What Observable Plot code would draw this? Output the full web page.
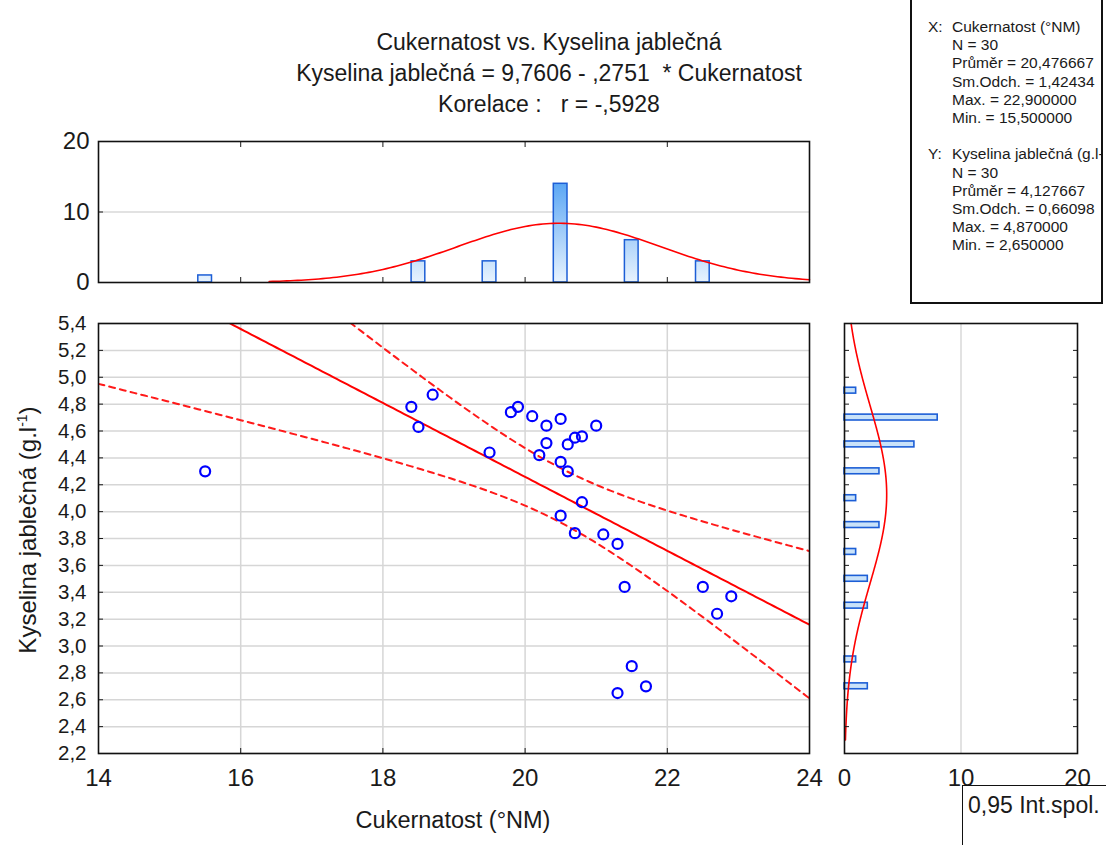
<!DOCTYPE html>
<html>
<head>
<meta charset="utf-8">
<script src="https://cdn.jsdelivr.net/npm/d3@7"></script>
<script src="https://cdn.jsdelivr.net/npm/@observablehq/plot@0.6"></script>
<style>
  html, body { margin: 0; padding: 0; background: #fff; }
  #root { position: relative; width: 1106px; height: 845px; overflow: hidden; background: #fff;
          font-family: "Liberation Sans", Arial, sans-serif; color: #1a1a1a; }
  .abs { position: absolute; }
  .title { left: 0; width: 1098px; text-align: center; font-size: 23px; line-height: 31px; white-space: pre; }
  #stats { left: 910px; top: -4px; width: 189px; height: 304px; border: 2px solid #111; overflow: hidden; }
  #stats div { position: absolute; font-size: 15.5px; line-height: 18px; white-space: pre; }
  #legendBox { left: 962px; top: 785px; width: 200px; height: 100px; border-top: 1.5px solid #111; border-left: 1.5px solid #111; }
  svg { position: absolute; }
</style>
</head>
<body>
<div id="root"></div>
<script>
// ---------- data ----------
const sugar = [15.5, 18.4, 18.5, 18.7, 19.5, 19.8, 19.9, 20.1, 20.3, 20.5, 21.0, 20.3, 20.7, 20.8, 20.6,
               20.2, 20.5, 20.6, 20.8, 20.5, 20.7, 21.1, 21.3, 21.4, 22.5, 22.9, 22.7, 21.5, 21.7, 21.3];
const acid  = [4.30, 4.78, 4.63, 4.87, 4.44, 4.74, 4.78, 4.71, 4.64, 4.69, 4.64, 4.51, 4.55, 4.56, 4.50,
               4.42, 4.37, 4.30, 4.07, 3.97, 3.84, 3.83, 3.76, 3.44, 3.44, 3.37, 3.24, 2.85, 2.70, 2.65];

// histogram of sugar (bin width 1)
const sugarBinCenters = [15.5, 18.5, 19.5, 20.5, 21.5, 22.5];
const sugarBinCounts  = [1, 3, 3, 14, 6, 3];
// histogram of acid (bin width 0.2)
const acidBinCenters = [4.9, 4.7, 4.5, 4.3, 4.1, 3.9, 3.7, 3.5, 3.3, 2.9, 2.7];
const acidBinCounts  = [1, 8, 6, 3, 1, 3, 1, 2, 2, 1, 2];

// descriptive statistics (stats box)
const statsLabels = ["N", "Průměr", "Sm.Odch.", "Max.", "Min."];
const xStatsText  = ["30", "20,476667", "1,42434", "22,900000", "15,500000"];
const yStatsText  = ["30", "4,127667", "0,66098", "4,870000", "2,650000"];
const xStatsNum   = [30, 20.476667, 1.42434, 22.9, 15.5];
const yStatsNum   = [30, 4.127667, 0.66098, 4.87, 2.65];

// regression
const regIntercept = 9.7606;
const regSlope = -0.2751;
const tCrit = 2.0484; // t(0.975, 28)

// axes
const xTicks = [14, 16, 18, 20, 22, 24];
const yTicks = [2.2, 2.4, 2.6, 2.8, 3.0, 3.2, 3.4, 3.6, 3.8, 4.0, 4.2, 4.4, 4.6, 4.8, 5.0, 5.2, 5.4];
const topHistTicks = [0, 10, 20];
const rightHistTicks = [0, 10, 20];

// text
const titleLines = ["Cukernatost vs. Kyselina jablečná",
                    "Kyselina jablečná = 9,7606 - ,2751  * Cukernatost",
                    "Korelace :   r = -,5928"];
const xLabel = "Cukernatost (°NM)";
const yLabelMain = "Kyselina jablečná (g.l";
const xVarName = "Cukernatost (°NM)";
const yVarName = "Kyselina jablečná (g.l-1)";
const legendText = "0,95 Int.spol.";

// ---------- derived ----------
const points = sugar.map((s, i) => ({s, a: acid[i]}));
const topBins = sugarBinCenters.map((c, i) => ({c, n: sugarBinCounts[i]}));
const rightBins = acidBinCenters.map((c, i) => ({c, n: acidBinCounts[i]}));

const n = sugar.length;
const xbar = d3.mean(sugar);
const Sxx = d3.sum(sugar, v => (v - xbar) ** 2);
const sRes = Math.sqrt(d3.sum(points, p => (p.a - (regIntercept + regSlope * p.s)) ** 2) / (n - 2));
const xs = d3.range(14, 24.0001, 0.05);
const regLine = xs.map(x => ({x, y: regIntercept + regSlope * x}));
const band = xs.map(x => {
  const y = regIntercept + regSlope * x;
  const h = tCrit * sRes * Math.sqrt(1 / n + (x - xbar) ** 2 / Sxx);
  return {x, lo: y - h, hi: y + h};
});

const normPdf = (v, m, s) => Math.exp(-0.5 * ((v - m) / s) ** 2) / (s * Math.sqrt(2 * Math.PI));
const topCurve = d3.range(16.4, 24.0001, 0.05).map(x => ({x, y: xStatsNum[0] * 1 * normPdf(x, xStatsNum[1], xStatsNum[2])}));
const rightCurve = d3.range(2.3, 5.4001, 0.01).map(v => ({v, n: yStatsNum[0] * 0.2 * normPdf(v, yStatsNum[1], yStatsNum[2])}));

const fmtComma = d => d.toFixed(1).replace(".", ",");
const font = "Liberation Sans, Arial, sans-serif";
const baseStyle = {fontFamily: font, background: "transparent", overflow: "visible", color: "#1a1a1a"};
const root = document.getElementById("root");

// ---------- titles ----------
titleLines.forEach((t, i) => {
  const d = document.createElement("div");
  d.className = "abs title";
  d.style.top = (26.5 + i * 31) + "px";
  d.textContent = t;
  root.appendChild(d);
});

// ---------- top histogram ----------
const topPlot = Plot.plot({
  width: 830, height: 180,
  marginLeft: 98, marginRight: 21, marginTop: 21, marginBottom: 18,
  style: baseStyle,
  x: {domain: [14, 24], axis: null},
  y: {domain: [0, 20], axis: null},
  marks: [
    Plot.ruleY([10], {stroke: "#d9d9d9", strokeWidth: 1.5}),
    Plot.rect(topBins, {x1: d => d.c - 0.5, x2: d => d.c + 0.5, y1: () => 0, y2: "n",
      insetLeft: 28.7, insetRight: 28.7, fill: "url(#gradTop)", stroke: "#1c5ed6", strokeWidth: 1.5}),
    Plot.line(topCurve, {x: "x", y: "y", stroke: "#ff0000", strokeWidth: 1.6}),
    Plot.axisY({ticks: topHistTicks, tickSize: 0, tickPadding: 9, fontSize: 24, label: null}),
    Plot.axisY({ticks: [10], tickSize: -5, tickFormat: () => "", label: null}),
    Plot.axisX({anchor: "bottom", ticks: [16, 18, 20, 22], tickSize: -5, tickFormat: () => "", label: null}),
    Plot.axisX({anchor: "top", ticks: [16, 18, 20, 22], tickSize: -5, tickFormat: () => "", label: null}),
    Plot.frame({stroke: "#111", strokeWidth: 1.6})
  ]
});
topPlot.style.left = "0px"; topPlot.style.top = "120px";
{
  const defs = d3.select(topPlot).insert("defs", ":first-child");
  const g = defs.append("linearGradient").attr("id", "gradTop")
    .attr("gradientUnits", "userSpaceOnUse").attr("x1", 0).attr("x2", 0).attr("y1", 21).attr("y2", 162);
  g.append("stop").attr("offset", "0%").attr("stop-color", "#1f86f0");
  g.append("stop").attr("offset", "100%").attr("stop-color", "#e8f3fe");
}
root.appendChild(topPlot);

// ---------- scatter ----------
const scatter = Plot.plot({
  width: 830, height: 500,
  marginLeft: 98, marginRight: 21, marginTop: 23, marginBottom: 47,
  style: baseStyle,
  x: {domain: [14, 24], axis: null},
  y: {domain: [2.2, 5.4], axis: null},
  marks: [
    Plot.gridY(yTicks, {stroke: "#d6d6d6", strokeOpacity: 1, strokeWidth: 1.5}),
    Plot.gridX([16, 18, 20, 22], {stroke: "#d6d6d6", strokeOpacity: 1, strokeWidth: 1.5}),
    Plot.line(band, {x: "x", y: "hi", stroke: "#ff1a1a", strokeWidth: 2, strokeDasharray: "6,5", clip: true}),
    Plot.line(band, {x: "x", y: "lo", stroke: "#ff1a1a", strokeWidth: 2, strokeDasharray: "6,5", clip: true}),
    Plot.line(regLine, {x: "x", y: "y", stroke: "#ff0000", strokeWidth: 2, clip: true}),
    Plot.dot(points, {x: "s", y: "a", r: 5, stroke: "#0000ff", strokeWidth: 2.2, fill: "none"}),
    Plot.axisY({ticks: yTicks, tickSize: -5, tickPadding: 17, tickFormat: fmtComma, fontSize: 20.5, label: null}),
    Plot.axisX({ticks: xTicks, tickSize: -5, tickPadding: 20, fontSize: 24, label: null}),
    Plot.frame({stroke: "#111", strokeWidth: 1.6})
  ]
});
scatter.style.left = "0px"; scatter.style.top = "300px";
root.appendChild(scatter);

// ---------- right histogram ----------
const rightPlot = Plot.plot({
  width: 276, height: 500,
  marginLeft: 14, marginRight: 29, marginTop: 23, marginBottom: 47,
  style: baseStyle,
  x: {domain: [0, 20], axis: null},
  y: {domain: [2.2, 5.4], axis: null},
  marks: [
    Plot.ruleX([10], {stroke: "#d9d9d9", strokeWidth: 1.5}),
    Plot.rect(rightBins, {y1: d => d.c - 0.1, y2: d => d.c + 0.1, x1: () => 0, x2: "n",
      insetTop: 10.5, insetBottom: 10.5, fill: "#c9e2f9", stroke: "#1c5ed6", strokeWidth: 1.6}),
    Plot.line(rightCurve, {x: "n", y: "v", stroke: "#ff0000", strokeWidth: 1.6}),
    Plot.axisY({anchor: "left", ticks: yTicks, tickSize: -5, tickFormat: () => "", label: null}),
    Plot.axisY({anchor: "right", ticks: yTicks, tickSize: -5, tickFormat: () => "", label: null}),
    Plot.axisX({ticks: rightHistTicks, tickSize: 0, tickPadding: 15, fontSize: 24, label: null}),
    Plot.frame({stroke: "#111", strokeWidth: 1.6})
  ]
});
rightPlot.style.left = "830px"; rightPlot.style.top = "300px";
root.appendChild(rightPlot);

// ---------- axis titles ----------
{
  const xl = document.createElement("div");
  xl.className = "abs";
  xl.style.cssText = "left:453px;top:820px;transform:translate(-50%,-50%);font-size:23.5px;white-space:nowrap;";
  xl.textContent = xLabel;
  root.appendChild(xl);

  const yl = document.createElement("div");
  yl.className = "abs";
  yl.style.cssText = "left:28px;top:530px;transform:translate(-50%,-50%) rotate(-90deg);font-size:24px;white-space:nowrap;";
  yl.appendChild(document.createTextNode(yLabelMain));
  const sup = document.createElement("sup");
  sup.style.fontSize = "14px";
  sup.textContent = "-1";
  yl.appendChild(sup);
  yl.appendChild(document.createTextNode(")"));
  root.appendChild(yl);
}

// ---------- stats box ----------
{
  const box = document.createElement("div");
  box.id = "stats"; box.className = "abs";
  root.appendChild(box);
  const add = (txt, x, yc) => {
    const d = document.createElement("div");
    d.style.left = (x - 912) + "px";
    d.style.top = (yc + 4 - 9) + "px";
    d.textContent = txt;
    box.appendChild(d);
  };
  const lh = 18.2;
  add("X:", 928, 25);
  add(xVarName, 952, 25);
  statsLabels.forEach((l, i) => add(l + " = " + xStatsText[i], 952, 25 + (i + 1) * lh));
  const y0 = 25 + 7 * lh;
  add("Y:", 928, y0);
  add(yVarName, 952, y0);
  statsLabels.forEach((l, i) => add(l + " = " + yStatsText[i], 952, y0 + (i + 1) * lh));
}

// ---------- legend box ----------
{
  const lb = document.createElement("div");
  lb.id = "legendBox"; lb.className = "abs";
  const t = document.createElement("div");
  t.style.cssText = "position:absolute;left:5px;top:6px;font-size:23px;white-space:nowrap;";
  t.textContent = legendText;
  lb.appendChild(t);
  root.appendChild(lb);
}
</script>
</body>
</html>
